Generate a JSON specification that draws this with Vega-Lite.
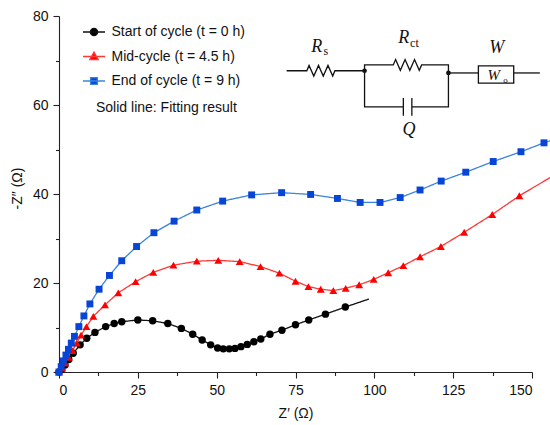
{
  "$schema": "https://vega.github.io/schema/vega-lite/v6.json",
  "width": 473,
  "height": 356,
  "autosize": {"type": "none"},
  "padding": {"left": 59, "top": 16, "right": 18, "bottom": 53},
  "background": "white",
  "config": {
    "view": {"stroke": null},
    "font": "Liberation Sans",
    "axis": {
      "grid": false,
      "domainColor": "#222",
      "tickColor": "#222",
      "domainWidth": 1.1,
      "tickWidth": 1.1,
      "tickSize": 6,
      "labelFont": "Liberation Sans",
      "labelFontSize": 14,
      "labelColor": "#111",
      "titleFont": "Liberation Sans",
      "titleFontSize": 14,
      "titleFontWeight": "normal",
      "titleColor": "#111"
    }
  },
  "datasets": {
    "series": [
      {"label": "Start of cycle (t = 0 h)"},
      {"label": "Mid-cycle (t = 4.5 h)"},
      {"label": "End of cycle (t = 9 h)"}
    ],
    "nyquist": [
      {"s": "start", "k": "m", "zr": 0, "zi": 0},
      {"s": "start", "k": "m", "zr": 0.9, "zi": 0.7},
      {"s": "start", "k": "m", "zr": 1.9, "zi": 1.6},
      {"s": "start", "k": "m", "zr": 3.1, "zi": 2.8},
      {"s": "start", "k": "m", "zr": 4.5, "zi": 4.2},
      {"s": "start", "k": "m", "zr": 6.7, "zi": 6.1},
      {"s": "start", "k": "m", "zr": 8.8, "zi": 7.6},
      {"s": "start", "k": "m", "zr": 11.4, "zi": 8.9},
      {"s": "start", "k": "m", "zr": 14.8, "zi": 10.2},
      {"s": "start", "k": "m", "zr": 17.5, "zi": 10.9},
      {"s": "start", "k": "m", "zr": 19.9, "zi": 11.3},
      {"s": "start", "k": "m", "zr": 25.0, "zi": 11.7},
      {"s": "start", "k": "m", "zr": 29.7, "zi": 11.5},
      {"s": "start", "k": "m", "zr": 34.5, "zi": 10.9},
      {"s": "start", "k": "m", "zr": 38.8, "zi": 9.8},
      {"s": "start", "k": "m", "zr": 42.4, "zi": 8.5},
      {"s": "start", "k": "m", "zr": 45.4, "zi": 7.2},
      {"s": "start", "k": "m", "zr": 48.1, "zi": 6.1},
      {"s": "start", "k": "m", "zr": 50.3, "zi": 5.4},
      {"s": "start", "k": "m", "zr": 52.1, "zi": 5.2},
      {"s": "start", "k": "m", "zr": 54.0, "zi": 5.2},
      {"s": "start", "k": "m", "zr": 55.8, "zi": 5.3},
      {"s": "start", "k": "m", "zr": 57.7, "zi": 5.7},
      {"s": "start", "k": "m", "zr": 59.7, "zi": 6.2},
      {"s": "start", "k": "m", "zr": 61.8, "zi": 6.8},
      {"s": "start", "k": "m", "zr": 64.0, "zi": 7.4},
      {"s": "start", "k": "m", "zr": 66.9, "zi": 8.5},
      {"s": "start", "k": "m", "zr": 70.7, "zi": 9.4},
      {"s": "start", "k": "m", "zr": 75.0, "zi": 10.6},
      {"s": "start", "k": "m", "zr": 79.2, "zi": 11.7},
      {"s": "start", "k": "m", "zr": 84.5, "zi": 13.0},
      {"s": "start", "k": "m", "zr": 90.8, "zi": 14.6},
      {"s": "start", "k": "f", "zr": 98.3, "zi": 16.4},
      {"s": "mid", "k": "m", "zr": 0, "zi": 0},
      {"s": "mid", "k": "m", "zr": 1.0, "zi": 0.9},
      {"s": "mid", "k": "m", "zr": 2.0, "zi": 2.0},
      {"s": "mid", "k": "m", "zr": 3.1, "zi": 3.3},
      {"s": "mid", "k": "m", "zr": 4.3, "zi": 4.8},
      {"s": "mid", "k": "m", "zr": 5.6, "zi": 6.5},
      {"s": "mid", "k": "m", "zr": 7.0, "zi": 8.3},
      {"s": "mid", "k": "m", "zr": 8.7, "zi": 10.2},
      {"s": "mid", "k": "m", "zr": 10.9, "zi": 12.5},
      {"s": "mid", "k": "m", "zr": 14.6, "zi": 15.1},
      {"s": "mid", "k": "m", "zr": 18.8, "zi": 17.8},
      {"s": "mid", "k": "m", "zr": 24.3, "zi": 20.3},
      {"s": "mid", "k": "m", "zr": 29.9, "zi": 22.4},
      {"s": "mid", "k": "m", "zr": 36.3, "zi": 24.0},
      {"s": "mid", "k": "m", "zr": 43.7, "zi": 24.9},
      {"s": "mid", "k": "m", "zr": 50.5, "zi": 25.1},
      {"s": "mid", "k": "m", "zr": 57.3, "zi": 24.8},
      {"s": "mid", "k": "m", "zr": 63.9, "zi": 23.7},
      {"s": "mid", "k": "m", "zr": 69.9, "zi": 22.2},
      {"s": "mid", "k": "m", "zr": 75.0, "zi": 20.4},
      {"s": "mid", "k": "m", "zr": 79.1, "zi": 19.2},
      {"s": "mid", "k": "m", "zr": 83.0, "zi": 18.6},
      {"s": "mid", "k": "m", "zr": 87.0, "zi": 18.3},
      {"s": "mid", "k": "m", "zr": 90.9, "zi": 18.8},
      {"s": "mid", "k": "m", "zr": 95.2, "zi": 19.6},
      {"s": "mid", "k": "m", "zr": 99.8, "zi": 20.8},
      {"s": "mid", "k": "m", "zr": 104.4, "zi": 22.3},
      {"s": "mid", "k": "m", "zr": 109.2, "zi": 23.9},
      {"s": "mid", "k": "m", "zr": 114.5, "zi": 25.9},
      {"s": "mid", "k": "m", "zr": 121.1, "zi": 28.2},
      {"s": "mid", "k": "m", "zr": 128.5, "zi": 31.4},
      {"s": "mid", "k": "m", "zr": 137.4, "zi": 35.4},
      {"s": "mid", "k": "m", "zr": 146.0, "zi": 39.6},
      {"s": "mid", "k": "f", "zr": 156.0, "zi": 43.8},
      {"s": "end", "k": "m", "zr": 0, "zi": 0},
      {"s": "end", "k": "m", "zr": 0.7, "zi": 1.2},
      {"s": "end", "k": "m", "zr": 1.4, "zi": 2.5},
      {"s": "end", "k": "m", "zr": 2.2, "zi": 3.8},
      {"s": "end", "k": "m", "zr": 3.0, "zi": 5.1},
      {"s": "end", "k": "m", "zr": 3.9, "zi": 6.5},
      {"s": "end", "k": "m", "zr": 4.9, "zi": 8.0},
      {"s": "end", "k": "m", "zr": 6.3, "zi": 10.2},
      {"s": "end", "k": "m", "zr": 7.9, "zi": 12.6},
      {"s": "end", "k": "m", "zr": 9.8, "zi": 15.3},
      {"s": "end", "k": "m", "zr": 12.7, "zi": 18.6},
      {"s": "end", "k": "m", "zr": 16.0, "zi": 21.7},
      {"s": "end", "k": "m", "zr": 19.9, "zi": 25.0},
      {"s": "end", "k": "m", "zr": 24.6, "zi": 28.2},
      {"s": "end", "k": "m", "zr": 30.1, "zi": 31.3},
      {"s": "end", "k": "m", "zr": 36.5, "zi": 33.9},
      {"s": "end", "k": "m", "zr": 43.7, "zi": 36.4},
      {"s": "end", "k": "m", "zr": 51.9, "zi": 38.4},
      {"s": "end", "k": "m", "zr": 61.1, "zi": 39.8},
      {"s": "end", "k": "m", "zr": 70.6, "zi": 40.3},
      {"s": "end", "k": "m", "zr": 79.8, "zi": 39.9},
      {"s": "end", "k": "m", "zr": 88.3, "zi": 39.0},
      {"s": "end", "k": "m", "zr": 95.5, "zi": 38.1},
      {"s": "end", "k": "m", "zr": 101.8, "zi": 38.1},
      {"s": "end", "k": "m", "zr": 108.2, "zi": 39.2},
      {"s": "end", "k": "m", "zr": 114.5, "zi": 40.9},
      {"s": "end", "k": "m", "zr": 121.2, "zi": 42.9},
      {"s": "end", "k": "m", "zr": 129.0, "zi": 44.9},
      {"s": "end", "k": "m", "zr": 137.7, "zi": 47.3},
      {"s": "end", "k": "m", "zr": 146.5, "zi": 49.5},
      {"s": "end", "k": "m", "zr": 153.8, "zi": 51.5},
      {"s": "end", "k": "f", "zr": 156.5, "zi": 52.1}
    ],
    "wires": [
      {"p": "rs", "i": 0, "zr": 72.2, "zi": 67.7},
      {"p": "rs", "i": 1, "zr": 78.6, "zi": 67.7},
      {"p": "rs", "i": 2, "zr": 79.3, "zi": 68.9},
      {"p": "rs", "i": 3, "zr": 80.8, "zi": 66.5},
      {"p": "rs", "i": 4, "zr": 82.3, "zi": 68.9},
      {"p": "rs", "i": 5, "zr": 83.8, "zi": 66.5},
      {"p": "rs", "i": 6, "zr": 85.3, "zi": 68.9},
      {"p": "rs", "i": 7, "zr": 86.8, "zi": 66.5},
      {"p": "rs", "i": 8, "zr": 87.5, "zi": 67.7},
      {"p": "rs", "i": 9, "zr": 96.9, "zi": 67.7},
      {"p": "loop", "i": 0, "zr": 109.2, "zi": 59.6},
      {"p": "loop", "i": 1, "zr": 96.9, "zi": 59.6},
      {"p": "loop", "i": 2, "zr": 96.9, "zi": 69.0},
      {"p": "loop", "i": 3, "zr": 106.0, "zi": 69.0},
      {"p": "loop", "i": 4, "zr": 106.75, "zi": 70.2},
      {"p": "loop", "i": 5, "zr": 108.25, "zi": 67.8},
      {"p": "loop", "i": 6, "zr": 109.75, "zi": 70.2},
      {"p": "loop", "i": 7, "zr": 111.25, "zi": 67.8},
      {"p": "loop", "i": 8, "zr": 112.75, "zi": 70.2},
      {"p": "loop", "i": 9, "zr": 114.25, "zi": 67.8},
      {"p": "loop", "i": 10, "zr": 115.0, "zi": 69.0},
      {"p": "loop", "i": 11, "zr": 123.5, "zi": 69.0},
      {"p": "loop", "i": 12, "zr": 123.5, "zi": 59.6},
      {"p": "loop", "i": 13, "zr": 111.9, "zi": 59.6},
      {"p": "cap1", "i": 0, "zr": 109.2, "zi": 61.6},
      {"p": "cap1", "i": 1, "zr": 109.2, "zi": 57.6},
      {"p": "cap2", "i": 0, "zr": 111.9, "zi": 61.6},
      {"p": "cap2", "i": 1, "zr": 111.9, "zi": 57.6},
      {"p": "w1", "i": 0, "zr": 123.5, "zi": 67.2},
      {"p": "w1", "i": 1, "zr": 133.0, "zi": 67.2},
      {"p": "w2", "i": 0, "zr": 144.2, "zi": 67.2},
      {"p": "w2", "i": 1, "zr": 152.5, "zi": 67.2}
    ],
    "box": [{"zr": 133.0, "zr2": 144.2, "zi": 64.9, "zi2": 68.8}],
    "nodes": [{"zr": 96.9, "zi": 67.7}, {"zr": 123.5, "zi": 67.2}],
    "labels": [
      {"kind": "main", "text": "R", "zr": 81.7, "zi": 73.1},
      {"kind": "main", "text": "R", "zr": 109.3, "zi": 75.0},
      {"kind": "main", "text": "W", "zr": 138.8, "zi": 72.7},
      {"kind": "main", "text": "Q", "zr": 111.0, "zi": 54.3},
      {"kind": "sub", "text": "s", "zr": 84.6, "zi": 72.2},
      {"kind": "sub", "text": "ct", "zr": 112.7, "zi": 73.9},
      {"kind": "boxmain", "text": "W", "zr": 137.9, "zi": 66.7},
      {"kind": "boxsub", "text": "o", "zr": 141.6, "zi": 65.7}
    ]
  },
  "layer": [
    {
      "encoding": {
        "x": {
          "field": "zr",
          "type": "quantitative",
          "scale": {"domain": [0, 150], "nice": false},
          "axis": {
            "values": [0, 25, 50, 75, 100, 125, 150],
            "labelPadding": 5,
            "title": "Z′ (Ω)",
            "titleY": 41,
            "titleBaseline": "middle"
          }
        },
        "y": {
          "field": "zi",
          "type": "quantitative",
          "scale": {"domain": [0, 80], "nice": false},
          "axis": {
            "values": [0, 20, 40, 60, 80],
            "labelPadding": 5,
            "title": "-Z″ (Ω)",
            "titleX": -42,
            "titleY": 172,
            "titleBaseline": "middle"
          }
        }
      },
      "layer": [
        {
          "data": {"name": "nyquist"},
          "mark": {"type": "line", "strokeWidth": 1.3},
          "encoding": {
            "color": {
              "field": "s",
              "type": "nominal",
              "scale": {"domain": ["start", "mid", "end"], "range": ["#111111", "#ff3838", "#3a84dc"]},
              "legend": null
            },
            "strokeDash": {
              "datum": "Solid line: Fitting result",
              "type": "nominal",
              "scale": {"range": [[1, 0]]},
              "legend": {
                "orient": "none",
                "legendX": 23,
                "legendY": 85,
                "title": null,
                "labelFont": "Liberation Sans",
                "labelFontSize": 14,
                "labelColor": "#111",
                "labelOffset": 0,
                "symbolSize": 1,
                "symbolStrokeWidth": 0,
                "symbolOpacity": 0
              }
            }
          }
        },
        {
          "data": {"name": "nyquist"},
          "transform": [{"filter": "datum.k === 'm' && datum.s === 'start'"}],
          "mark": {"type": "point", "shape": "circle", "filled": true, "size": 55, "color": "#000000", "opacity": 1}
        },
        {
          "data": {"name": "nyquist"},
          "transform": [{"filter": "datum.k === 'm' && datum.s === 'mid'"}],
          "mark": {"type": "point", "shape": "triangle-up", "filled": true, "size": 62, "color": "#ff0000", "opacity": 1}
        },
        {
          "data": {"name": "nyquist"},
          "transform": [{"filter": "datum.k === 'm' && datum.s === 'end'"}],
          "mark": {"type": "point", "shape": "square", "filled": true, "size": 48, "color": "#0645d6", "opacity": 1}
        },
        {
          "data": {"name": "series"},
          "mark": {"type": "point", "filled": true, "size": 484, "opacity": 1},
          "encoding": {
            "fill": {
              "field": "label",
              "type": "nominal",
              "scale": {
                "domain": ["Start of cycle (t = 0 h)", "Mid-cycle (t = 4.5 h)", "End of cycle (t = 9 h)"],
                "range": ["#000000", "#ff0000", "#0645d6"]
              },
              "legend": {
                "orient": "none",
                "legendX": 23,
                "legendY": 4,
                "title": null,
                "labelFont": "Liberation Sans",
                "labelFontSize": 14,
                "labelColor": "#111",
                "labelOffset": 5.5,
                "symbolSize": 484,
                "symbolStrokeWidth": 1.3,
                "symbolOpacity": 1,
                "rowPadding": 5.5
              }
            },
            "stroke": {
              "field": "label",
              "type": "nominal",
              "scale": {
                "domain": ["Start of cycle (t = 0 h)", "Mid-cycle (t = 4.5 h)", "End of cycle (t = 9 h)"],
                "range": ["#111111", "#ff3838", "#3a84dc"]
              }
            },
            "shape": {
              "field": "label",
              "type": "nominal",
              "scale": {
                "domain": ["Start of cycle (t = 0 h)", "Mid-cycle (t = 4.5 h)", "End of cycle (t = 9 h)"],
                "range": [
                  "M-1,0H1M-0.33,0A0.33,0.33 0 1,0 0.33,0A0.33,0.33 0 1,0 -0.33,0Z",
                  "M-1,0H1M0,-0.4L0.38,0.28H-0.38Z",
                  "M-1,0H1M-0.31,-0.31H0.31V0.31H-0.31Z"
                ]
              }
            }
          }
        },
        {
          "data": {"name": "wires"},
          "mark": {"type": "line", "color": "#111", "strokeWidth": 1.3},
          "encoding": {
            "detail": {"field": "p", "type": "nominal"},
            "order": {"field": "i", "type": "quantitative"}
          }
        },
        {
          "data": {"name": "box"},
          "mark": {"type": "rect", "fill": "white", "stroke": "#111", "strokeWidth": 1.3},
          "encoding": {
            "x2": {"field": "zr2"},
            "y2": {"field": "zi2"}
          }
        },
        {
          "data": {"name": "nodes"},
          "mark": {"type": "point", "shape": "circle", "filled": true, "color": "#111", "size": 22, "opacity": 1}
        },
        {
          "data": {"name": "labels"},
          "transform": [{"filter": "datum.kind === 'main'"}],
          "mark": {"type": "text", "font": "Liberation Serif", "fontStyle": "italic", "fontSize": 18, "color": "#111", "baseline": "middle"},
          "encoding": {"text": {"field": "text"}}
        },
        {
          "data": {"name": "labels"},
          "transform": [{"filter": "datum.kind === 'sub'"}],
          "mark": {"type": "text", "font": "Liberation Serif", "fontSize": 12, "color": "#111", "baseline": "middle"},
          "encoding": {"text": {"field": "text"}}
        },
        {
          "data": {"name": "labels"},
          "transform": [{"filter": "datum.kind === 'boxmain'"}],
          "mark": {"type": "text", "font": "Liberation Serif", "fontStyle": "italic", "fontSize": 15, "color": "#111", "baseline": "middle"},
          "encoding": {"text": {"field": "text"}}
        },
        {
          "data": {"name": "labels"},
          "transform": [{"filter": "datum.kind === 'boxsub'"}],
          "mark": {"type": "text", "font": "Liberation Serif", "fontSize": 9, "color": "#111", "baseline": "middle"},
          "encoding": {"text": {"field": "text"}}
        }
      ]
    },
    {
      "data": {"name": "nodes"},
      "mark": {"type": "point", "opacity": 0},
      "encoding": {
        "x": {
          "field": "zr",
          "type": "quantitative",
          "axis": {
            "orient": "bottom",
            "values": [12.5, 37.5, 62.5, 87.5, 112.5, 137.5],
            "labels": false,
            "domain": false,
            "tickSize": 3.5,
            "title": null
          }
        },
        "y": {
          "field": "zi",
          "type": "quantitative",
          "axis": {
            "orient": "left",
            "values": [10, 30, 50, 70],
            "labels": false,
            "domain": false,
            "tickSize": 3.5,
            "title": null
          }
        }
      }
    }
  ],
  "resolve": {"axis": {"x": "independent", "y": "independent"}}
}
